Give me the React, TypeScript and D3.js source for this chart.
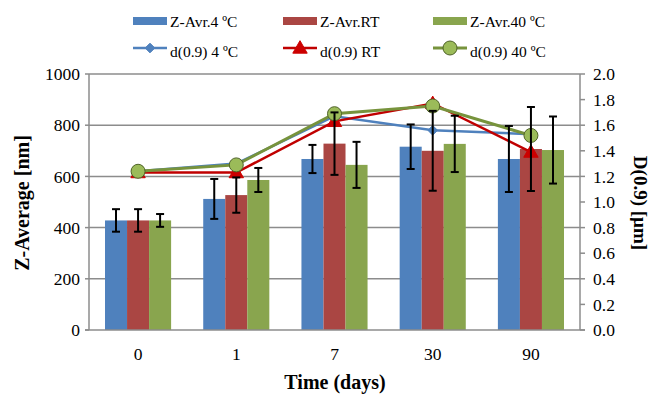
import * as d3 from 'd3';
import React from 'react';

const categories = ['0', '1', '7', '30', '90'];

// Z-average bars [nm] with error (+/-)
const zAvr4 = [428, 512, 668, 716, 668];
const err4 = [44, 78, 55, 87, 129];
const zAvrRT = [428, 527, 728, 700, 707];
const errRT = [44, 69, 122, 156, 164];
const zAvr40 = [428, 586, 645, 727, 703];
const err40 = [25, 47, 90, 110, 131];

// d(0.9) lines [µm]
const d4 = [1.24, 1.3, 1.67, 1.56, 1.53];
const dRT = [1.23, 1.23, 1.63, 1.77, 1.39];
const d40 = [1.24, 1.29, 1.69, 1.75, 1.52];

const leftTicks = [0, 200, 400, 600, 800, 1000];
const rightTicks = d3.range(0, 2.01, 0.2);

const barSeries = [
  { name: 'Z-Avr.4 ºC', values: zAvr4, errors: err4, color: '#4F81BD' },
  { name: 'Z-Avr.RT', values: zAvrRT, errors: errRT, color: '#AA4643' },
  { name: 'Z-Avr.40 ºC', values: zAvr40, errors: err40, color: '#89A54E' },
];

const lineSeries = [
  { name: 'd(0.9) 4 ºC', values: d4, color: '#4F81BD', marker: 'diamond' },
  { name: 'd(0.9) RT', values: dRT, color: '#C00000', marker: 'triangle' },
  { name: 'd(0.9) 40 ºC', values: d40, color: '#77933C', marker: 'circle' },
];

const font = "'Liberation Serif', 'Times New Roman', serif";
const gridColor = '#8c8c8c';

function Marker({ type, x, y }: { type: string; x: number; y: number }) {
  if (type === 'diamond') {
    return <path d={d3.symbol(d3.symbolDiamond2, 60)()!} transform={`translate(${x},${y})`} fill="#4F81BD" stroke="#4F81BD" />;
  }
  if (type === 'triangle') {
    return <path d={d3.symbol(d3.symbolTriangle, 90)()!} transform={`translate(${x},${y + 1})`} fill="#CC0000" stroke="#CC0000" />;
  }
  return <circle cx={x} cy={y} r={7} fill="#9BBB59" stroke="#4F6228" strokeWidth={1} />;
}

export default function App() {
  const left = 89;
  const right = 580;
  const top = 74;
  const bottom = 330;

  const x0 = d3.scaleBand().domain(categories).range([left, right]).paddingInner(0.327).paddingOuter(0.163);
  const x1 = d3.scaleBand().domain(barSeries.map(s => s.name)).range([0, x0.bandwidth()]);
  const y = d3.scaleLinear().domain([0, 1000]).range([bottom, top]);
  const y2 = d3.scaleLinear().domain([0, 2]).range([bottom, top]);
  const cx = (c: string) => (x0(c) ?? 0) + x0.bandwidth() / 2;

  const line = d3
    .line<number>()
    .x((_, i) => cx(categories[i]))
    .y(d => y2(d));

  return (
    <svg width={652} height={395} style={{ position: 'absolute', left: 0, top: 0, fontFamily: font }}>
      <rect width={652} height={395} fill="white" />

      {/* grid */}
      {leftTicks.slice(1).map(t => (
        <line key={t} x1={left} x2={right} y1={y(t)} y2={y(t)} stroke={gridColor} strokeWidth={1.5} />
      ))}

      {/* bars */}
      {barSeries.map(s =>
        categories.map((c, i) => (
          <rect
            key={s.name + c}
            x={(x0(c) ?? 0) + (x1(s.name) ?? 0)}
            y={y(s.values[i])}
            width={x1.bandwidth()}
            height={bottom - y(s.values[i])}
            fill={s.color}
          />
        ))
      )}

      {/* axes */}
      <line x1={left} x2={left} y1={top} y2={bottom} stroke={gridColor} strokeWidth={1.5} />
      <line x1={right} x2={right} y1={top} y2={bottom} stroke={gridColor} strokeWidth={1.5} />
      <line x1={left - 4} x2={right + 5} y1={bottom} y2={bottom} stroke={gridColor} strokeWidth={1.5} />
      {leftTicks.map(t => (
        <g key={'lt' + t}>
          <line x1={left - 4} x2={left} y1={y(t)} y2={y(t)} stroke={gridColor} strokeWidth={1.5} />
          <text x={80} y={y(t)} dy="0.35em" textAnchor="end" fontSize={17.5}>
            {t}
          </text>
        </g>
      ))}
      {rightTicks.map(t => (
        <g key={'rt' + t}>
          <line x1={right} x2={right + 5} y1={y2(t)} y2={y2(t)} stroke={gridColor} strokeWidth={1.5} />
          <text x={593} y={y2(t)} dy="0.35em" textAnchor="start" fontSize={17.5}>
            {t.toFixed(1)}
          </text>
        </g>
      ))}
      {categories.map(c => (
        <text key={'xc' + c} x={cx(c)} y={360} textAnchor="middle" fontSize={17.5}>
          {c}
        </text>
      ))}

      {/* lines */}
      {lineSeries.map(s => (
        <g key={s.name}>
          <path d={line(s.values) ?? ''} fill="none" stroke={s.color} strokeWidth={s.marker === 'circle' ? 3 : 2.5} />
          {s.values.map((v, i) => (
            <Marker key={i} type={s.marker} x={cx(categories[i])} y={y2(v)} />
          ))}
        </g>
      ))}

      {/* error bars */}
      {barSeries.map(s =>
        categories.map((c, i) => {
          const bx = (x0(c) ?? 0) + (x1(s.name) ?? 0) + x1.bandwidth() / 2;
          const yHi = y(s.values[i] + s.errors[i]);
          const yLo = y(s.values[i] - s.errors[i]);
          return (
            <g key={'e' + s.name + c} stroke="black" strokeWidth={2}>
              <line x1={bx} x2={bx} y1={yHi} y2={yLo} />
              <line x1={bx - 4} x2={bx + 4} y1={yHi} y2={yHi} />
              <line x1={bx - 4} x2={bx + 4} y1={yLo} y2={yLo} />
            </g>
          );
        })
      )}

      {/* axis titles */}
      <text x={335} y={389} textAnchor="middle" fontSize={20} fontWeight="bold">
        Time (days)
      </text>
      <text transform="translate(29,203) rotate(-90)" textAnchor="middle" fontSize={20} fontWeight="bold">
        Z-Average [nm]
      </text>
      <text transform="translate(634,203) rotate(90)" textAnchor="middle" fontSize={19} fontWeight="bold">
        D(0.9) [µm]
      </text>

      {/* legend */}
      {barSeries.map((s, i) => (
        <g key={'lb' + s.name} transform={`translate(${133 + i * 150},0)`}>
          <rect x={0} y={17} width={34} height={8} fill={s.color} />
          <text x={37} y={27} fontSize={15.5}>
            {s.name}
          </text>
        </g>
      ))}
      {lineSeries.map((s, i) => (
        <g key={'ll' + s.name} transform={`translate(${133 + i * 150},0)`}>
          <line x1={0} x2={34} y1={48} y2={48} stroke={s.color} strokeWidth={s.marker === 'circle' ? 3 : 2.5} />
          <Marker type={s.marker} x={17} y={48} />
          <text x={37} y={57} fontSize={15.5}>
            {s.name}
          </text>
        </g>
      ))}
    </svg>
  );
}
